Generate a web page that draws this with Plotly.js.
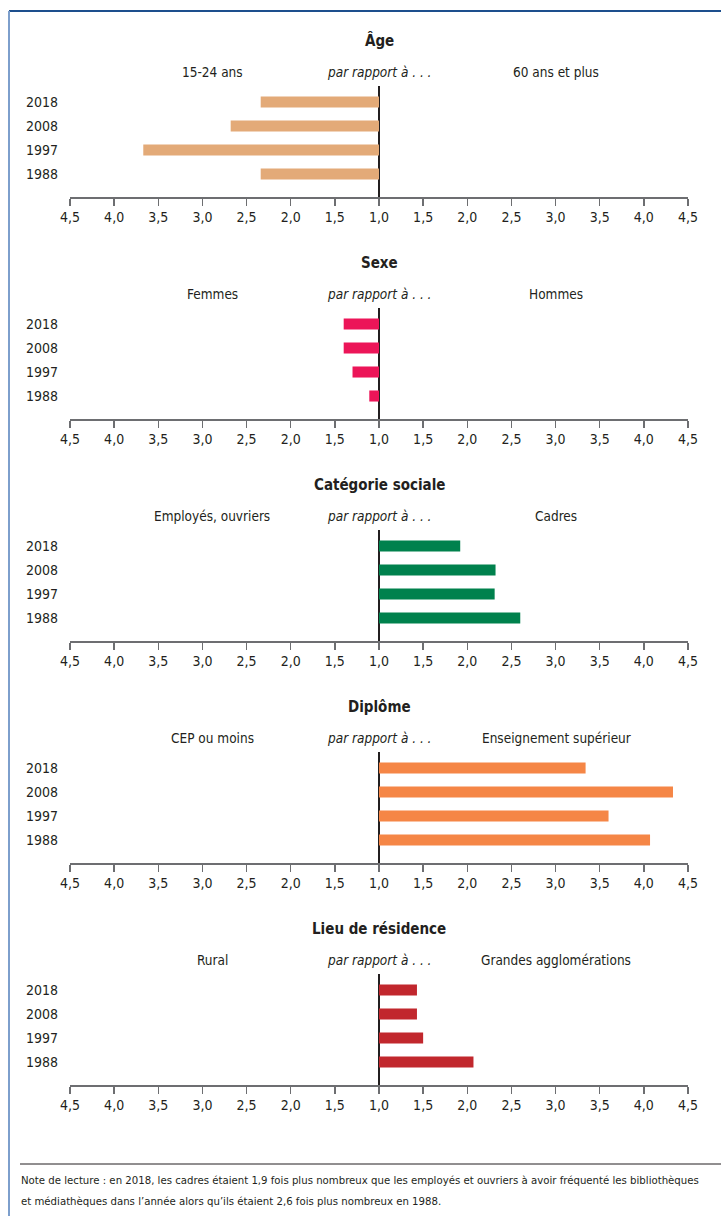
<!DOCTYPE html>
<html><head><meta charset="utf-8">
<script src="https://cdn.plot.ly/plotly-3.0.1.min.js"></script>
<style>html,body{margin:0;padding:0;background:#fff;}#chart{width:721px;height:1216px;}</style>
</head><body><div id="chart"></div>
<script>
// ---- data ----
const years = ['2018', '2008', '1997', '1988'];
const panelTitles = ['Âge', 'Sexe', 'Catégorie sociale', 'Diplôme', 'Lieu de résidence'];
const leftLabels = ['15-24 ans', 'Femmes', 'Employés, ouvriers', 'CEP ou moins', 'Rural'];
const rightLabels = ['60 ans et plus', 'Hommes', 'Cadres', 'Enseignement supérieur', 'Grandes agglomérations'];
const age1524 = [2.34, 2.68, 3.67, 2.34];          // 15-24 ans vs 60 ans et plus (left side)
const sexeFemmes = [1.40, 1.40, 1.30, 1.11];       // Femmes vs Hommes (left side)
const catCadres = [1.92, 2.32, 2.31, 2.60];        // Cadres vs Employés, ouvriers (right side)
const diplomeSup = [3.34, 4.33, 3.60, 4.07];       // Enseignement supérieur vs CEP (right side)
const lieuGrandes = [1.43, 1.43, 1.50, 2.07];      // Grandes agglomérations vs Rural (right side)
const tickRatios = [4.5, 4.0, 3.5, 3.0, 2.5, 2.0, 1.5, 1.0, 1.5, 2.0, 2.5, 3.0, 3.5, 4.0, 4.5];
const noteLines = [
  'Note de lecture : en 2018, les cadres étaient 1,9 fois plus nombreux que les employés et ouvriers à avoir fréquenté les bibliothèques',
  'et médiathèques dans l’année alors qu’ils étaient 2,6 fois plus nombreux en 1988.'
];

// ---- styles ----
const series = [age1524, sexeFemmes, catCadres, diplomeSup, lieuGrandes];
const sides = [-1, -1, 1, 1, 1];
const colors = ['#e3aa78', '#ec1558', '#00814d', '#f58646', '#c1272d'];
const FONT = "'DejaVu Sans Condensed', 'Liberation Sans Narrow', 'Arial Narrow', sans-serif";
const W = 721, H = 1216;
const step = 222;
const px = x => x / W;
const py = y => 1 - y / H;

const tickvals = tickRatios.map((r, i) => (i < 7 ? -(r - 1) : (r - 1)));
const ticktext = tickRatios.map(r => r.toFixed(1).replace('.', ','));

const data = [];
const layout = {
  width: W, height: H,
  margin: {l: 0, r: 0, t: 0, b: 0},
  paper_bgcolor: '#fff', plot_bgcolor: 'rgba(0,0,0,0)',
  showlegend: false,
  font: {family: FONT, color: '#231f20', size: 14},
  annotations: [],
  shapes: []
};

for (let k = 0; k < 5; k++) {
  const off = k * step;
  const xa = 'x' + (k === 0 ? '' : k + 1);
  const ya = 'y' + (k === 0 ? '' : k + 1);
  const xkey = 'xaxis' + (k === 0 ? '' : k + 1);
  const ykey = 'yaxis' + (k === 0 ? '' : k + 1);
  data.push({
    type: 'bar', orientation: 'h',
    y: years,
    x: series[k].map(v => sides[k] * (v - 1)),
    base: 0,
    width: 0.46,
    marker: {color: colors[k], line: {width: 0}},
    xaxis: xa, yaxis: ya,
    hoverinfo: 'skip'
  });
  layout[xkey] = {
    domain: [px(70), px(688)],
    anchor: ya,
    range: [-3.5, 3.5],
    tickmode: 'array', tickvals: tickvals, ticktext: ticktext,
    showgrid: false,
    zeroline: true, zerolinecolor: '#231f20', zerolinewidth: 1.5,
    showline: true, linecolor: '#6d6e71', linewidth: 1.5,
    ticks: 'outside', ticklen: 7, tickwidth: 1.5, tickcolor: '#6d6e71',
    tickfont: {family: FONT, size: 14, color: '#231f20'},
    fixedrange: true
  };
  layout[ykey] = {
    domain: [py(197 + off), py(86 + off)],
    anchor: xa,
    type: 'category',
    categoryorder: 'array', categoryarray: years,
    range: [3.958, -0.667],
    showgrid: false, zeroline: false, showline: false,
    ticks: '', ticklabelstandoff: 11,
    tickfont: {family: FONT, size: 14, color: '#231f20'},
    fixedrange: true
  };
  layout.annotations.push(
    {text: '<b>' + panelTitles[k] + '</b>', x: px(379), y: py(41 + off), xref: 'paper', yref: 'paper',
     xanchor: 'center', yanchor: 'middle', showarrow: false, font: {family: FONT, size: 15, color: '#231f20'}},
    {text: leftLabels[k], x: px(212), y: py(72 + off), xref: 'paper', yref: 'paper',
     xanchor: 'center', yanchor: 'middle', showarrow: false, font: {family: FONT, size: 13.5, color: '#231f20'}},
    {text: '<i>par rapport à . . .</i>', x: px(379), y: py(72 + off), xref: 'paper', yref: 'paper',
     xanchor: 'center', yanchor: 'middle', showarrow: false, font: {family: FONT, size: 13.5, color: '#231f20'}},
    {text: rightLabels[k], x: px(556), y: py(72 + off), xref: 'paper', yref: 'paper',
     xanchor: 'center', yanchor: 'middle', showarrow: false, font: {family: FONT, size: 13.5, color: '#231f20'}}
  );
}

noteLines.forEach((t, i) => {
  layout.annotations.push({text: t, x: px(19), y: py(1180 + i * 21), xref: 'paper', yref: 'paper',
    xanchor: 'left', yanchor: 'middle', showarrow: false, font: {family: FONT, size: 11.3, color: '#231f20'}});
});

layout.shapes.push(
  {type: 'line', xref: 'paper', yref: 'paper', x0: px(9), x1: 1, y0: py(11), y1: py(11), line: {color: '#1d4f8d', width: 2}},
  {type: 'line', xref: 'paper', yref: 'paper', x0: px(9), x1: px(9), y0: py(11), y1: 0, line: {color: '#7d9fcc', width: 2}},
  {type: 'line', xref: 'paper', yref: 'paper', x0: px(20), x1: 1, y0: py(1164), y1: py(1164), line: {color: '#231f20', width: 1}}
);

Plotly.newPlot('chart', data, layout, {staticPlot: true, displayModeBar: false});
</script>
</body></html>
